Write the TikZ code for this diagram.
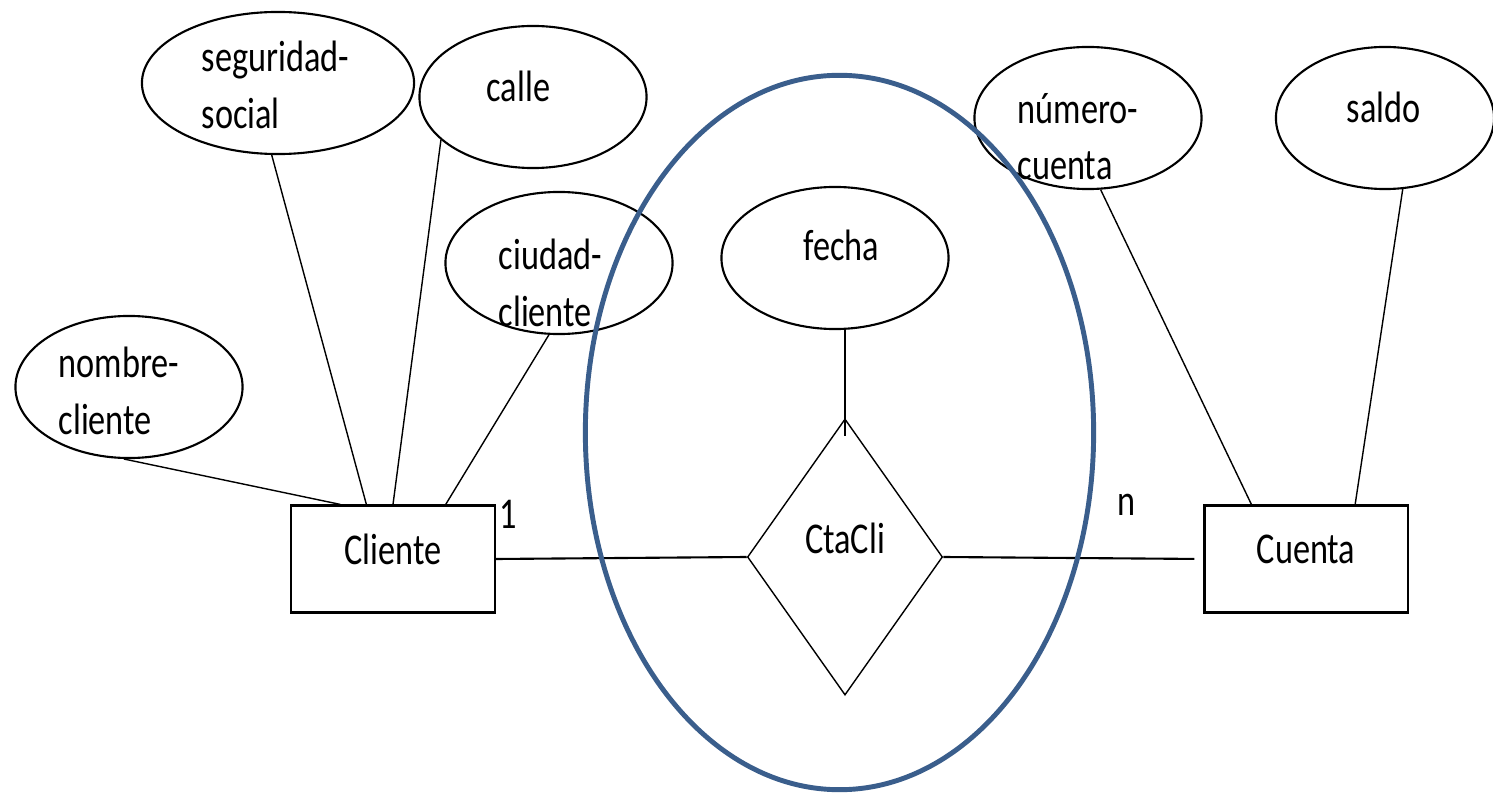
\documentclass[tikz,border=0pt]{standalone}
\usepackage{fontspec}
\setmainfont{Carlito}[FakeStretch=0.78]
\usetikzlibrary{shapes.geometric}
\definecolor{grpblue}{RGB}{58,94,140}

\begin{document}
\begin{tikzpicture}[x=0.01cm, y=-0.01cm,
  font=\fontsize{12.5}{16}\selectfont,
  attr/.style={draw, ellipse, line width=0.6pt, inner sep=0pt, minimum width=2.27cm, minimum height=1.42cm},
  lbl/.style={anchor=west, align=left, inner sep=0pt},
  ent/.style={draw, rectangle, line width=0.6pt, minimum width=2.03cm, minimum height=1.07cm, text depth=5.7pt},
  rel/.style={draw, diamond, line width=0.4pt, inner sep=0pt, minimum width=1.95cm, minimum height=2.76cm, text depth=10.7pt},
  edge/.style={line width=0.4pt},
  grupo/.style={draw=grpblue, line width=1.4pt}]
  \useasboundingbox (0,0) rectangle (1493,794);

  % attributes
  \node[attr, minimum width=2.72cm] (segsoc) at (278,83) {};
  \node[attr] (calle) at (533,97) {};
  \node[attr] (ciudad) at (559,263) {};
  \node[attr] (nombre) at (129,387) {};
  \node[attr] (fecha) at (835,258) {};
  \node[attr] (numcta) at (1088,118) {};
  \node[attr, minimum width=2.18cm] (saldo) at (1385,118) {};

  \node[lbl] (t-segsoc) at (201,85) {seguridad-\\social};
  \node[lbl] (t-calle) at (486,86) {calle};
  \node[lbl] (t-ciudad) at (498,283) {ciudad-\\cliente};
  \node[lbl] (t-nombre) at (58,391) {nombre-\\cliente};
  \node[lbl] (t-fecha) at (803,245) {fecha};
  \node[lbl] (t-numcta) at (1017,137) {número-\\cuenta};
  \node[lbl] (t-saldo) at (1346,107) {saldo};

  % entities and relationship
  \node[ent] (cliente) at (393,559) {Cliente};
  \node[ent] (cuenta) at (1306,559) {Cuenta};
  \node[rel] (ctacli) at (845,557) {CtaCli};

  \node (card1) at (508,514) {1};
  \node (cardn) at (1126,505) {n};

  \draw[edge] (nombre.266) -- (cliente.134);
  \draw[edge] (segsoc.265) -- (cliente.116);
  \draw[edge] (calle.205) -- (cliente.north);
  \draw[edge] (ciudad.262) -- (cliente.46);
  \draw[edge] (numcta.280) -- (cuenta.135);
  \draw[edge] (saldo.284) -- (cuenta.48);
  \draw[line width=0.6pt] (cliente.east) -- (ctacli.west);
  \draw[line width=0.6pt, shorten >=0.09cm] (ctacli.east) -- (cuenta.west);
  \draw[edge, shorten >=-0.18cm] (ctacli.north |- fecha.south) -- (ctacli.north);

  % aggregation
  \draw[grupo] (839.5,432.5) ellipse [x radius=2.54cm, y radius=3.57cm];
\end{tikzpicture}
\end{document}
